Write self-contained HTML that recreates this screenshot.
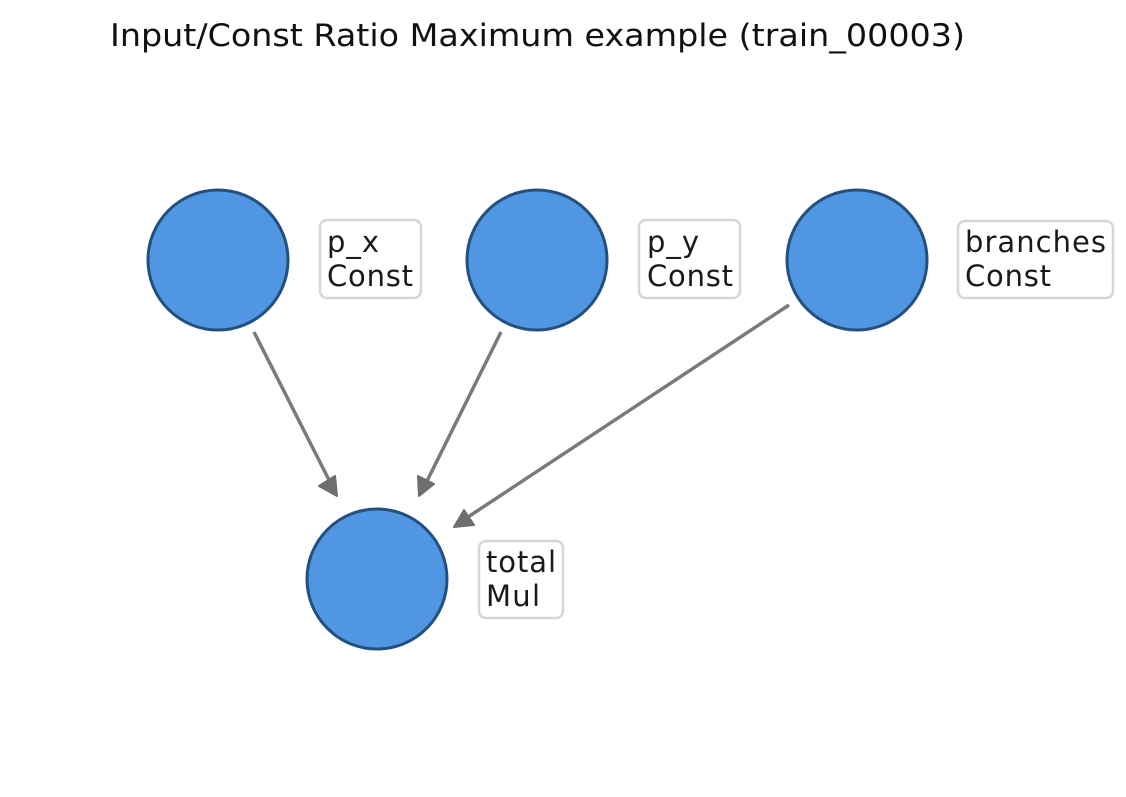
<!DOCTYPE html>
<html><head><style>
body{margin:0;background:#fff;}
svg{display:block;}
text{font-family:"DejaVu Sans","Liberation Sans",sans-serif;}
</style></head><body>
<svg width="1126" height="797" viewBox="0 0 1126 797" xmlns="http://www.w3.org/2000/svg">
<text x="110" y="46" font-size="31" fill="#111" textLength="855" lengthAdjust="spacingAndGlyphs">Input/Const Ratio Maximum example (train_00003)</text>
<g stroke="#7a7a7a" stroke-width="3.5" fill="none">
<line x1="254" y1="332" x2="329" y2="480"/>
<line x1="501" y1="332" x2="427" y2="481"/>
<line x1="789" y1="305" x2="468" y2="517"/>
</g>
<g fill="#6e6e6e" stroke="#6e6e6e" stroke-width="2" stroke-linejoin="round">
<polygon points="337,496 319,486 335,476"/>
<polygon points="419,496 418,476 434,484"/>
<polygon points="454,527 464,510 474,525"/>
</g>
<g fill="#5196e3" stroke="#22507f" stroke-width="3">
<circle cx="218" cy="260" r="70"/>
<circle cx="537" cy="260" r="70"/>
<circle cx="857" cy="260" r="70"/>
<circle cx="377" cy="579" r="70"/>
</g>
<g fill="#fff" stroke="#d4d6dc" stroke-width="2.5">
<rect x="320" y="220" width="101" height="78" rx="7"/>
<rect x="639" y="220" width="101" height="78" rx="7"/>
<rect x="958" y="221" width="155" height="77" rx="7"/>
<rect x="479" y="541" width="84" height="77" rx="7"/>
</g>
<g font-size="29" fill="#1a1a1a" lengthAdjust="spacingAndGlyphs">
<text x="327" y="252" textLength="52">p_x</text><text x="327" y="286" textLength="86">Const</text>
<text x="647" y="252" textLength="52">p_y</text><text x="647" y="286" textLength="86">Const</text>
<text x="965" y="252" textLength="141">branches</text><text x="965" y="286" textLength="86">Const</text>
<text x="486" y="572" textLength="70">total</text><text x="486" y="606" textLength="54">Mul</text>
</g>
</svg>
</body></html>
